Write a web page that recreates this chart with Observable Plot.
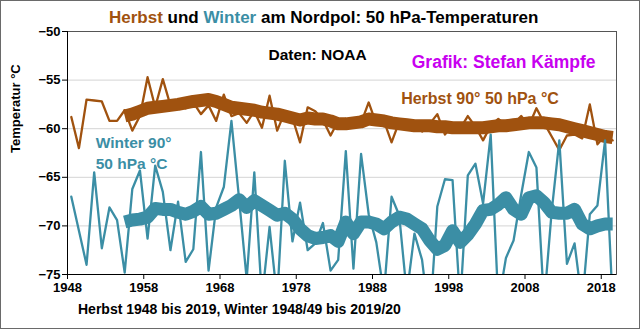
<!DOCTYPE html>
<html>
<head>
<meta charset="utf-8">
<script src="https://cdn.jsdelivr.net/npm/d3@7"></script>
<script src="https://cdn.jsdelivr.net/npm/@observablehq/plot@0.6"></script>
<style>
  body { margin: 0; background: #fff; }
  #wrap { position: relative; width: 640px; height: 329px; overflow: hidden; background: #fff;
          font-family: "Liberation Sans", Arial, sans-serif; }
  #chart { position: absolute; left: 0; top: 0; }
  #title { position: absolute; left: 109px; top: 8px; line-height: 20px; font-size: 17px; font-weight: bold; color: #000; white-space: nowrap; }
  #caption { position: absolute; left: 78px; top: 301px; line-height: 16px; font-size: 14px; font-weight: bold; color: #000; white-space: nowrap; }
  #border { position: absolute; left: 0; top: 0; width: 640px; height: 329px; box-sizing: border-box; border: 1px solid #6a6a6a; pointer-events: none; }
</style>
</head>
<body>
<div id="wrap">
  <div id="chart"></div>
  <div id="title"><span style="color:#a0520f">Herbst</span> und <span style="color:#3b8ea5">Winter</span> am Nordpol: 50 hPa-Temperaturen</div>
  <div id="caption">Herbst 1948 bis 2019, Winter 1948/49 bis 2019/20</div>
  <div id="border"></div>
</div>
<script>
const years = [1948,1949,1950,1951,1952,1953,1954,1955,1956,1957,1958,1959,1960,1961,1962,1963,1964,1965,1966,1967,
  1968,1969,1970,1971,1972,1973,1974,1975,1976,1977,1978,1979,1980,1981,1982,1983,1984,1985,1986,1987,
  1988,1989,1990,1991,1992,1993,1994,1995,1996,1997,1998,1999,2000,2001,2002,2003,2004,2005,2006,2007,
  2008,2009,2010,2011,2012,2013,2014,2015,2016,2017,2018,2019];

// Herbst (autumn) 50 hPa temperature at 90°N, °C
const herbst = [-58.8,-62.0,-57.0,-57.1,-57.2,-59.2,-59.2,-58.1,-60.2,-58.7,
  -54.7,-57.8,-54.9,-57.6,-57.7,-57.9,-57.3,-58.5,-57.6,-59.2,
  -56.5,-58.7,-58.4,-59.4,-58.2,-59.9,-56.6,-60.2,-58.3,-58.9,
  -61.4,-57.8,-58.2,-59.1,-60.7,-59.2,-59.0,-59.6,-59.4,-57.3,
  -59.5,-59.2,-61.4,-59.3,-59.6,-59.4,-60.3,-59.5,-58.5,-60.6,
  -59.6,-60.0,-58.7,-59.8,-61.2,-59.7,-59.0,-59.6,-59.5,-58.7,
  -59.7,-57.9,-59.4,-60.8,-62.2,-60.7,-60.6,-61.0,-57.5,-61.6,
  -60.7,-61.2];

// Winter 50 hPa temperature at 90°N, °C (values below -75 are cut off in the chart)
const winter = [-67.0,-70.5,-74.0,-64.5,-72.3,-68.1,-69.4,-74.8,-66.2,-64.3,
  -71.3,-63.8,-66.5,-72.5,-67.5,-73.7,-72.4,-62.4,-74.6,-68.1,
  -66.0,-59.2,-67.2,-75.5,-64.5,-77.5,-70.1,-77.5,-63.3,-71.6,
  -67.6,-72.5,-71.8,-69.7,-74.6,-73.5,-62.3,-74.4,-62.6,-68.8,
  -71.7,-77.0,-67.0,-68.9,-77.0,-70.8,-73.5,-80.0,-68.0,-65.2,
  -65.3,-78.0,-64.8,-63.6,-67.7,-60.6,-78.0,-73.3,-71.5,-66.8,
  -62.4,-64.0,-78.0,-68.5,-61.2,-73.9,-71.8,-78.0,-68.8,-67.9,
  -61.2,-78.0];

// smoothed curves (thick lines), 1955 - 2019
const smoothYears = years.slice(7);
const herbstSmooth = [-58.7,-58.5,-58.2,-57.9,-57.8,-57.7,-57.6,-57.5,-57.35,-57.2,
  -57.1,-57.0,-57.2,-57.5,-57.8,-57.9,-58.0,-58.1,-58.3,-58.4,
  -58.5,-58.7,-58.9,-59.1,-58.9,-59.0,-59.0,-59.2,-59.5,-59.5,
  -59.4,-59.3,-59.0,-59.1,-59.2,-59.4,-59.5,-59.6,-59.7,-59.7,
  -59.7,-59.8,-59.8,-59.9,-59.9,-59.9,-59.9,-59.9,-59.8,-59.7,
  -59.7,-59.6,-59.5,-59.4,-59.4,-59.4,-59.5,-59.6,-59.8,-60.0,
  -60.2,-60.4,-60.6,-60.8,-60.9];
const winterSmooth = [-69.6,-69.4,-69.3,-69.1,-68.2,-68.3,-68.3,-68.6,-68.8,-68.5,
  -68.0,-68.8,-68.7,-68.3,-67.9,-67.3,-68.1,-67.4,-67.9,-68.4,
  -68.9,-68.7,-69.3,-70.3,-71.0,-71.3,-71.2,-71.0,-71.6,-69.6,
  -70.8,-69.6,-69.6,-69.8,-70.3,-69.6,-69.1,-69.3,-69.8,-70.3,
  -71.5,-72.4,-72.0,-70.5,-71.7,-70.9,-69.8,-68.4,-68.3,-67.8,
  -67.1,-68.3,-68.8,-67.1,-66.9,-67.6,-68.6,-68.7,-68.7,-68.3,
  -69.8,-70.3,-70.0,-69.8,-69.8];

const xTicks = [1948,1958,1968,1978,1988,1998,2008,2018];
const yTicks = [-75,-70,-65,-60,-55,-50];
const gridTicks = [-70,-65,-60,-55];

const brown = "#a0520f";
const teal = "#3b8ea5";

const raw = years.map((yr, i) => ({year: yr, herbst: herbst[i], winter: winter[i]}));
const smooth = smoothYears.map((yr, i) => ({year: yr, herbst: herbstSmooth[i], winter: winterSmooth[i]}));
const mid = d => d.year + 0.5; // points sit between the category ticks

const chart = Plot.plot({
  width: 640,
  height: 329,
  marginLeft: 67,
  marginRight: 24,
  marginTop: 31,
  marginBottom: 55,
  style: {fontFamily: "'Liberation Sans', Arial, sans-serif", fontSize: "13px", fontWeight: "bold", background: "transparent"},
  x: {domain: [1948, 2020]},
  y: {domain: [-75, -50]},
  marks: [
    Plot.ruleY(gridTicks, {stroke: "#d4d4d4", strokeWidth: 1}),
    Plot.line(raw, {x: mid, y: "herbst", stroke: brown, strokeWidth: 2.3, clip: true}),
    Plot.line(smooth, {x: mid, y: "herbst", stroke: brown, strokeWidth: 13, strokeLinejoin: "round", strokeLinecap: "butt", clip: true}),
    Plot.line(raw, {x: mid, y: "winter", stroke: teal, strokeWidth: 2.3, clip: true}),
    Plot.line(smooth, {x: mid, y: "winter", stroke: teal, strokeWidth: 13, strokeLinejoin: "round", strokeLinecap: "butt", clip: true}),
    Plot.frame({stroke: "#555"}),
    Plot.ruleX([1948], {stroke: "#000"}),
    Plot.ruleY([-75], {stroke: "#000"}),
    Plot.axisX(xTicks, {tickSize: 5, tickPadding: 3, tickFormat: d => String(d), label: null}),
    Plot.axisY(yTicks, {tickSize: 5, tickPadding: 2, label: null}),
    Plot.text(["Temperatur °C"], {frameAnchor: "left", dx: -52, rotate: -90, fontSize: 13, fontWeight: "bold", fill: "#000"}),
    Plot.text(["Daten: NOAA"], {x: [1980.8], y: [-52.4], fontSize: 15.5, fontWeight: "bold", fill: "#000"}),
    Plot.text(["Grafik: Stefan Kämpfe"], {x: [2005.2], y: [-53.2], fontSize: 17.5, fontWeight: "bold", fill: "#c800f0"}),
    Plot.text(["Herbst 90° 50 hPa °C"], {x: [2002.1], y: [-56.9], fontSize: 16, fontWeight: "bold", fill: brown}),
    Plot.text(["Winter 90°\n50 hPa °C"], {x: [1951.7], y: [-62.35], textAnchor: "start", lineHeight: 1.4, fontSize: 15.5, fontWeight: "bold", fill: teal})
  ]
});
document.getElementById("chart").appendChild(chart);
</script>
</body>
</html>
